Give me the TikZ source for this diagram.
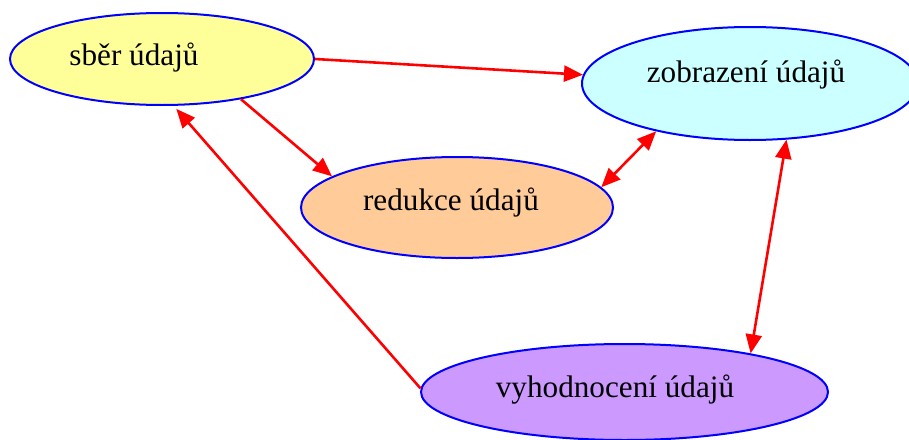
\documentclass[tikz,border=0pt]{standalone}
\usepackage{fontspec}
\setmainfont{Liberation Serif}
\usetikzlibrary{shapes.geometric,arrows.meta}
\definecolor{sberfill}{HTML}{FFFF99}
\definecolor{zobrfill}{HTML}{CCFFFF}
\definecolor{redfill}{HTML}{FFCC99}
\definecolor{vyhodfill}{HTML}{CC99FF}

\begin{document}
\begin{tikzpicture}[x=0.5pt,y=-0.5pt,
    stage/.style={ellipse, draw=blue, line width=1pt, inner sep=0pt},
    stagetext/.style={font=\fontsize{15.6}{18}\selectfont, inner sep=0pt, anchor=base},
    flow/.style={draw=red, line width=1.3pt, -{Triangle[length=9.5pt,width=8pt]}},
    flowboth/.style={draw=red, line width=1.3pt, {Triangle[length=9.5pt,width=8pt]}-{Triangle[length=9.5pt,width=8pt]}}]
    \useasboundingbox (0,0) rectangle (909,439);

    \node[stage, fill=sberfill, minimum width=152pt, minimum height=46pt] (sber) at (162,59) {};
    \node[stage, fill=zobrfill, minimum width=168pt, minimum height=56.5pt] (zobr) at (750,83.5) {};
    \node[stage, fill=redfill, minimum width=156pt, minimum height=50.5pt] (red) at (457,207.5) {};
    \node[stage, fill=vyhodfill, minimum width=203.5pt, minimum height=48pt] (vyhod) at (624.5,392) {};

    \node[stagetext] (sberlabel) at (134,65) {sběr údajů};
    \node[stagetext] (zobrlabel) at (746,82) {zobrazení údajů};
    \node[stagetext] (redlabel) at (451,210) {redukce údajů};
    \node[stagetext] (vyhodlabel) at (615,397) {vyhodnocení údajů};

    \draw[flow] (sber.east) -- (zobr.177);
    \draw[flow] (sber.-27) -- (red.166);
    \draw[flowboth] (red.8) -- (zobr.-153);
    \draw[flowboth] (zobr.-57) -- (vyhod.17);
    \draw[flow, shorten >=2pt] (vyhod.179) -- (sber.-76);
\end{tikzpicture}
\end{document}
